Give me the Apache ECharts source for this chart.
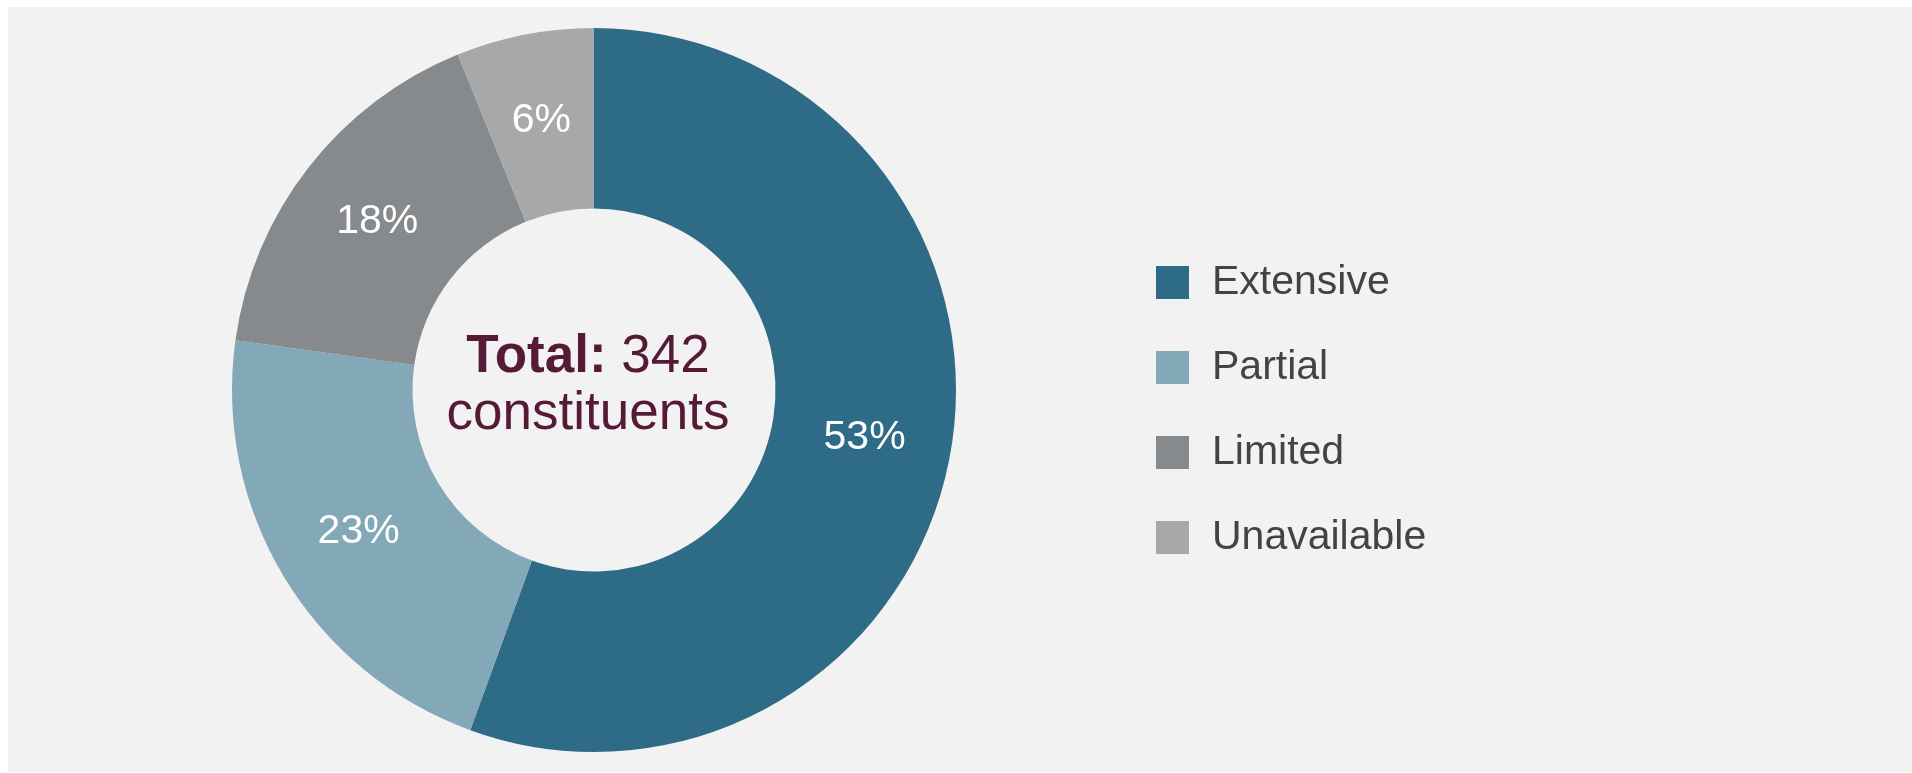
<!DOCTYPE html>
<html>
<head>
<meta charset="utf-8">
<script src="https://cdn.jsdelivr.net/npm/echarts@6/dist/echarts.min.js"></script>
<style>
  html, body { margin: 0; padding: 0; background: #ffffff; width: 1912px; height: 773px; overflow: hidden; }
  #bg { position: absolute; left: 8px; top: 7px; width: 1904px; height: 765px; background: #f2f2f2; }
  #chart { position: absolute; left: 0; top: 0; width: 1912px; height: 773px; }
</style>
</head>
<body>
<div id="bg"></div>
<div id="chart"></div>
<script>
// Data
var categories = ['Extensive', 'Partial', 'Limited', 'Unavailable'];
var counts = [190, 74, 57, 21];          // slice sizes (sum = 342 constituents)
var shareLabels = [53, 23, 18, 6];       // percentages printed on the slices
var colors = ['#2e6b87', '#83a8b8', '#878a8d', '#a7a8aa'];

var total = counts.reduce(function (a, b) { return a + b; }, 0);
var FONT = '"Liberation Sans", Arial, Helvetica, sans-serif';
var TEXT_MAROON = '#561a36';

var chart = echarts.init(document.getElementById('chart'), null, { renderer: 'canvas' });

var option = {
  backgroundColor: 'transparent',
  animation: false,
  color: colors,
  textStyle: { fontFamily: FONT },
  legend: {
    orient: 'vertical',
    left: 1156,
    top: 262,
    icon: 'rect',
    itemWidth: 33,
    itemHeight: 33,
    itemGap: 44,
    padding: 0,
    selectedMode: false,
    data: categories,
    textStyle: {
      fontFamily: FONT,
      fontSize: 41,
      color: '#434343',
      lineHeight: 33,
      padding: [0, 0, 0, 18]
    }
  },
  graphic: [{
    type: 'text',
    x: 588,
    y: 386,
    silent: true,
    style: {
      text: '{b|Total:} {r|' + total + '}\n{r|constituents}',
      x: 0,
      y: 0,
      align: 'center',
      verticalAlign: 'middle',
      fontFamily: FONT,
      fontSize: 53,
      lineHeight: 57,
      fill: TEXT_MAROON,
      rich: {
        b: { fontWeight: 'bold', fontSize: 53, lineHeight: 57, fill: TEXT_MAROON, fontFamily: FONT },
        r: { fontWeight: 'normal', fontSize: 53, lineHeight: 57, fill: TEXT_MAROON, fontFamily: FONT }
      }
    }
  }],
  series: [{
    type: 'pie',
    center: [594, 390],
    radius: [181.5, 362],
    startAngle: 90,
    clockwise: true,
    avoidLabelOverlap: false,
    silent: true,
    itemStyle: { borderWidth: 0, borderRadius: 0 },
    emphasis: { disabled: true },
    label: {
      show: true,
      position: 'inside',
      color: '#ffffff',
      fontFamily: FONT,
      fontSize: 41,
      fontWeight: 'normal',
      textBorderWidth: 0,
      formatter: function (p) { return shareLabels[p.dataIndex] + '%'; }
    },
    labelLine: { show: false },
    data: categories.map(function (c, i) {
      return { name: c, value: counts[i] };
    })
  }]
};

chart.setOption(option);
</script>
</body>
</html>
